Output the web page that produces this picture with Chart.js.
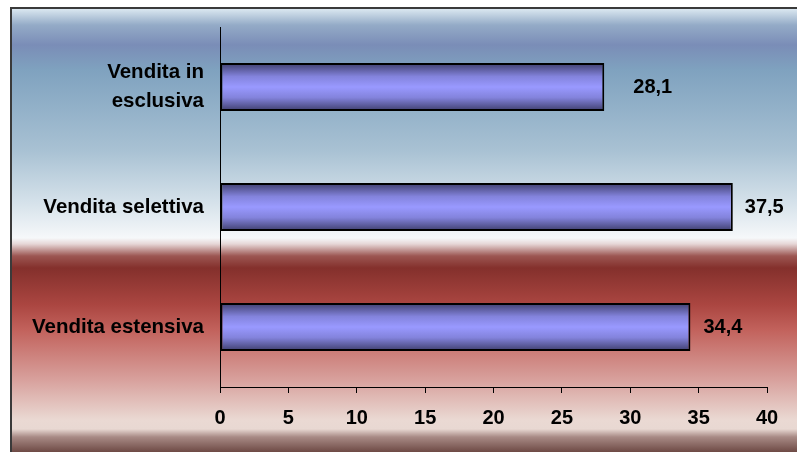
<!DOCTYPE html>
<html lang="it">
<head>
<meta charset="UTF-8">
<title>Vendita</title>
<script src="https://cdn.jsdelivr.net/npm/chart.js"></script>
<style>
  html, body { margin: 0; padding: 0; background: #fff; }
  canvas { display: block; }
</style>
</head>
<body>
<canvas id="chart" width="797" height="452"></canvas>
<script>
const categories = [['Vendita in', 'esclusiva'], 'Vendita selettiva', 'Vendita estensiva'];
const values = [28.1, 37.5, 34.4];
const xTicks = [0, 5, 10, 15, 20, 25, 30, 35, 40];

const FONT = '"Liberation Sans", Arial, sans-serif';

// page background: blue sky on top, red band below, framed top/left
const backdrop = {
  id: 'backdrop',
  beforeDraw(chart) {
    const ctx = chart.ctx;
    const W = chart.width, H = chart.height;
    ctx.save();
    ctx.fillStyle = '#ffffff';
    ctx.fillRect(0, 0, W, H);
    const g = ctx.createLinearGradient(0, 8, 0, H);
    const stops = [
      [9, '#dae7f0'], [25, '#94abc7'], [45, '#7a8db7'], [70, '#7fa2bf'],
      [150, '#a8c1d3'], [200, '#d3e0e9'], [238, '#f6f8fa'], [244, '#e6d6d6'],
      [256, '#9c5652'], [268, '#84302c'], [305, '#ab4641'], [330, '#c2625c'],
      [380, '#d8a19d'], [420, '#ead9d3'], [429, '#e8d8d2'], [437, '#a88a85'],
      [452, '#6e4a45']
    ];
    stops.forEach(([y, c]) => g.addColorStop((y - 8) / (H - 8), c));
    ctx.fillStyle = g;
    ctx.fillRect(11, 8, W - 11, H - 8);
    ctx.strokeStyle = '#3a3a3a';
    ctx.lineWidth = 2;
    ctx.beginPath();
    ctx.moveTo(11, H);
    ctx.lineTo(11, 8);
    ctx.lineTo(W, 8);
    ctx.stroke();
    ctx.restore();
  }
};

// shaded fill for each bar, built from its laid-out position
const barShade = {
  id: 'barShade',
  beforeDatasetsDraw(chart) {
    const ctx = chart.ctx;
    chart.getDatasetMeta(0).data.forEach(bar => {
      const top = bar.y - bar.height / 2, bottom = bar.y + bar.height / 2;
      if (!isFinite(top) || !isFinite(bottom)) return;
      const g = ctx.createLinearGradient(0, top, 0, bottom);
      g.addColorStop(0, '#3e3e6c');
      g.addColorStop(0.28, '#8383dc');
      g.addColorStop(0.5, '#9999ff');
      g.addColorStop(0.72, '#8383dc');
      g.addColorStop(1, '#3e3e6c');
      bar.options.backgroundColor = g;
    });
  }
};

// value labels to the right of each bar
const labelOffsets = [29, 12, 13];
const valueLabels = {
  id: 'valueLabels',
  afterDatasetsDraw(chart) {
    const ctx = chart.ctx;
    const meta = chart.getDatasetMeta(0);
    ctx.save();
    ctx.font = 'bold 20px ' + FONT;
    ctx.fillStyle = '#000';
    ctx.textAlign = 'left';
    ctx.textBaseline = 'middle';
    meta.data.forEach((bar, i) => {
      const txt = values[i].toFixed(1).replace('.', ',');
      ctx.fillText(txt, bar.x + labelOffsets[i], bar.y);
    });
    ctx.restore();
  }
};

new Chart(document.getElementById('chart'), {
  type: 'bar',
  data: {
    labels: categories,
    datasets: [{
      data: values,
      // scriptable so every bar keeps its own options object
      backgroundColor: (c) => '#9999ff',
      borderColor: '#000',
      borderWidth: 2,
      borderSkipped: false,
      barPercentage: 0.4,
      categoryPercentage: 1.0
    }]
  },
  options: {
    indexAxis: 'y',
    responsive: false,
    animation: false,
    layout: { padding: { left: 0, right: 30, top: 27, bottom: 0 } },
    plugins: {
      legend: { display: false },
      tooltip: { enabled: false }
    },
    scales: {
      x: {
        type: 'linear',
        min: 0,
        max: 40,
        afterBuildTicks(scale) { scale.ticks = xTicks.map(v => ({ value: v })); },
        afterFit(scale) { scale.height = 65; },
        border: { display: true, color: '#000', width: 1 },
        grid: { drawOnChartArea: false, drawTicks: true, tickLength: 6, color: '#000' },
        ticks: {
          color: '#000',
          padding: 13,
          font: { family: FONT, size: 20, weight: 'bold' }
        }
      },
      y: {
        afterFit(scale) {
          scale.width = 220;
          scale.paddingTop = 0;
          scale.paddingBottom = 0;
        },
        border: { display: true, color: '#000', width: 1 },
        grid: { display: false, drawTicks: false },
        ticks: {
          color: '#000',
          padding: 16,
          font: { family: FONT, size: 20.5, weight: 'bold', lineHeight: 1.42 }
        }
      }
    }
  },
  plugins: [backdrop, barShade, valueLabels]
});
</script>
</body>
</html>
